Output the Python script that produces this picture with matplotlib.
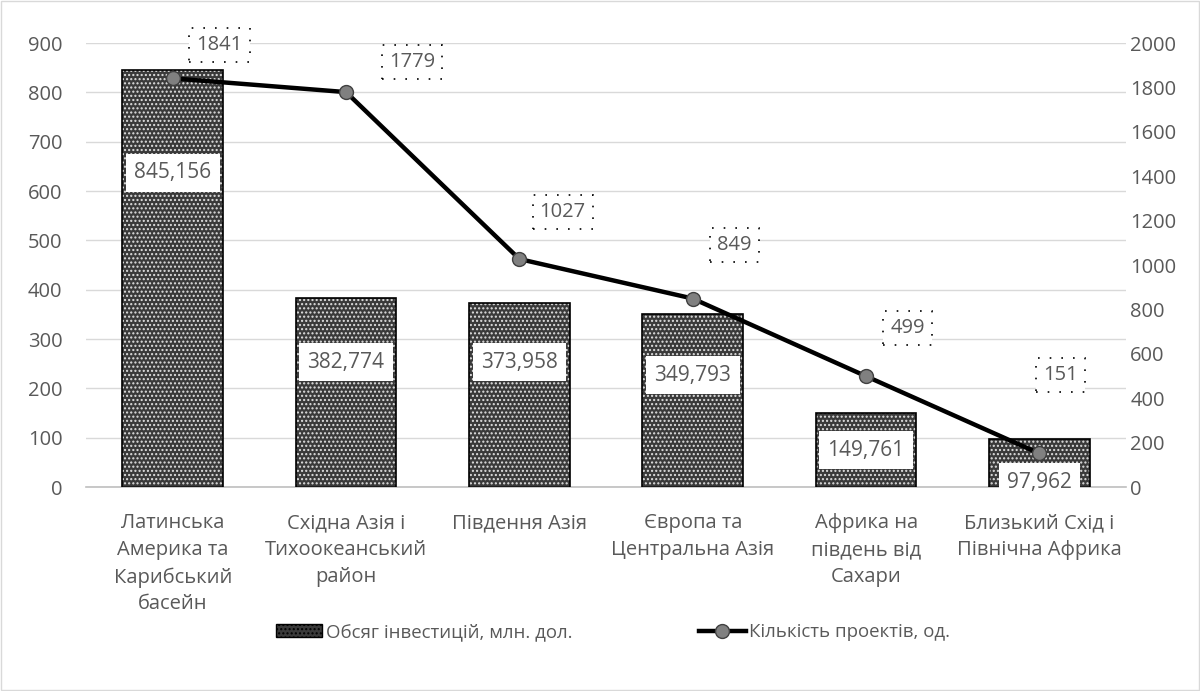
import matplotlib
matplotlib.use("Agg")
import matplotlib.pyplot as plt
from matplotlib.patches import Rectangle
from matplotlib.lines import Line2D
import numpy as np

plt.rcParams['font.family'] = ['Open Sans', 'DejaVu Sans']

categories = ["Латинська\nАмерика та\nКарибський\nбасейн",
              "Східна Азія і\nТихоокеанський\nрайон",
              "Південня Азія",
              "Європа та\nЦентральна Азія",
              "Африка на\nпівдень від\nСахари",
              "Близький Схід і\nПівнічна Африка"]
investments = [845.156, 382.774, 373.958, 349.793, 149.761, 97.962]
invest_labels = ["845,156", "382,774", "373,958", "349,793", "149,761", "97,962"]
projects = [1841, 1779, 1027, 849, 499, 151]
left_ticks = list(range(0, 1000, 100))
right_ticks = list(range(0, 2200, 200))
legend_bar = "Обсяг інвестицій, млн. дол."
legend_line = "Кількість проектів, од."

# label placements (manual, as in the reference)
bar_label_y = [637, 253, 253, 227, 75, 10]
line_label_dx = [0.27, 0.38, 0.25, 0.24, 0.24, 0.12]
line_label_y = [1991, 1914, 1239, 1090, 716, 505]

FS = 14.5
TC = '#595959'

fig = plt.figure(figsize=(12, 6.91), dpi=100)
fig.patches.append(Rectangle((0.001, 0.001), 0.998, 0.998, transform=fig.transFigure,
                             fill=False, ec='#d9d9d9', lw=1))
ax = fig.add_axes([0.0717, 0.2952, 0.8667, 0.6425])
x = np.arange(len(categories))
ax.set_xlim(-0.5, len(categories) - 0.5)
ax.set_ylim(0, 900)
ax.set_yticks(left_ticks)
ax.yaxis.grid(True, color='#d9d9d9', lw=1)
ax.set_axisbelow(True)
for s in ['top', 'right', 'left']:
    ax.spines[s].set_visible(False)
ax.spines['bottom'].set_color('#bfbfbf')
ax.spines['bottom'].set_linewidth(1.2)
ax.tick_params(axis='both', length=0, labelsize=FS, labelcolor=TC)
ax.tick_params(axis='y', pad=17)
ax.set_xticks(x)
ax.set_xticklabels(categories, linespacing=1.45)
ax.tick_params(axis='x', pad=19)

bw = 0.58
ax.bar(x, investments, width=bw, color='#3a3a3a', edgecolor='#e0e0e0', hatch='....', lw=0, zorder=2)
ax.bar(x, investments, width=bw, fill=False, edgecolor='black', lw=1.2, zorder=3)
for xi, ly, t in zip(x, bar_label_y, invest_labels):
    ax.text(xi, ly, t, ha='center', va='center', fontsize=FS + 0.5, color=TC, zorder=6,
            bbox=dict(boxstyle='square,pad=0.4', fc='white', ec='none'))

ax2 = ax.twinx()
ax2.set_ylim(0, 2000)
ax2.set_yticks(right_ticks)
for s in ['top', 'right', 'left', 'bottom']:
    ax2.spines[s].set_visible(False)
ax2.tick_params(axis='y', length=0, labelsize=FS, labelcolor=TC, pad=3)
ax2.plot(x, projects, color='black', lw=3.2, marker='o', markersize=10,
         markerfacecolor='#808080', markeredgecolor='#404040', markeredgewidth=1, zorder=5)
for xi, dx, ly, v in zip(x, line_label_dx, line_label_y, projects):
    ax2.text(xi + dx, ly, str(v), ha='center', va='center', fontsize=FS, color=TC, zorder=6,
             bbox=dict(boxstyle='square,pad=0.35', fc='white', ec='black', lw=1.2, ls=(0, (1, 6))))

handles = [Rectangle((0, 0), 1, 1, fc='#3a3a3a', ec='black', hatch='....', lw=1),
           Line2D([], [], color='black', lw=3.2, marker='o', markersize=10,
                  markerfacecolor='#808080', markeredgecolor='#404040')]
fig.legend(handles, [legend_bar, legend_line], loc='center', bbox_to_anchor=(0.511, 0.085),
           ncol=2, frameon=False, fontsize=13.4, columnspacing=6.8, handlelength=2.5,
           handletextpad=0.2, labelcolor=TC)

fig.savefig("out.png", dpi=100)
